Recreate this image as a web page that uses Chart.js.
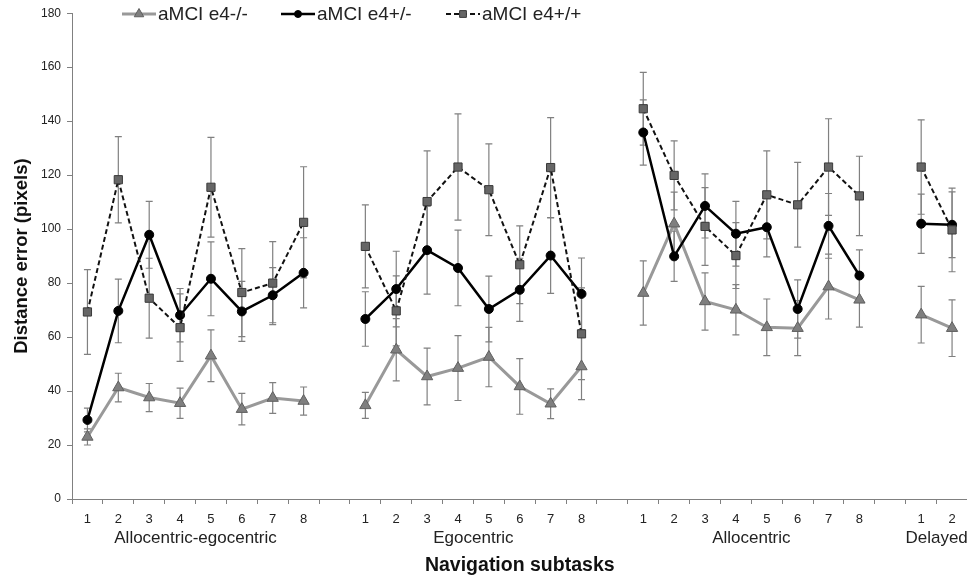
<!DOCTYPE html>
<html>
<head>
<meta charset="utf-8">
<script src="https://cdn.jsdelivr.net/npm/chart.js@4.4.1/dist/chart.umd.min.js"></script>
<style>
  html, body { margin: 0; padding: 0; background: #fff; overflow: hidden; }
  #wrap { width: 975px; height: 582px; position: relative; }
</style>
</head>
<body>
<div id="wrap"><canvas id="myChart"></canvas></div>
<script>
// x categories: 4 groups of subtasks, one blank slot between groups
const subtaskLabels = ['1','2','3','4','5','6','7','8','',
                       '1','2','3','4','5','6','7','8','',
                       '1','2','3','4','5','6','7','8','',
                       '1','2'];
const groupNames = ['Allocentric-egocentric', 'Egocentric', 'Allocentric', 'Delayed'];
const groupFirst = [0, 9, 18, 27];
const groupLast = [7, 16, 25, 28];
const yTicks = [0, 20, 40, 60, 80, 100, 120, 140, 160, 180];

// mean distance error (pixels), null = gap between groups
const e4neg = [23, 41.3, 37.6, 35.5, 53.1, 33.3, 37.4, 36.3, null,
               34.7, 55.3, 45.4, 48.5, 52.6, 41.7, 35.3, 49.1, null,
               76.3, 102.0, 73.2, 70.1, 63.6, 63.3, 78.7, 73.8, null,
               68.3, 63.3];
const e4negErr = [3, 5.3, 5.2, 5.6, 9.6, 5.8, 5.7, 5.2, null,
                  4.8, 11.5, 10.5, 12, 11, 10.3, 5.5, 12.3, null,
                  11.9, 11.7, 10.6, 9.3, 10.5, 10.2, 12, 10.1, null,
                  10.5, 10.5];

const e4het = [29.3, 69.7, 97.9, 68.1, 81.6, 69.5, 75.5, 83.8, null,
               66.7, 77.8, 92.2, 85.6, 70.4, 77.5, 90.2, 76, null,
               135.8, 89.9, 108.6, 98.3, 100.7, 70.4, 101.2, 82.8, null,
               102, 101.6];
const e4hetErr = [4.4, 11.8, 12.4, 9.9, 13.7, 11.1, 10.2, 13, null,
                  10.1, 14, 16.3, 14, 12.2, 11.7, 14, 13.3, null,
                  12.1, 9.3, 11.9, 12, 11, 10.8, 12, 9.5, null,
                  11, 12.2];

const e4hom = [69.3, 118.3, 74.4, 63.5, 115.5, 76.5, 80, 102.5, null,
               93.6, 69.7, 110.2, 123, 114.6, 86.8, 122.8, 61.2, null,
               144.6, 119.9, 101, 90.2, 112.7, 109, 123, 112.3, null,
               123, 99.7];
const e4homErr = [15.7, 16, 14.8, 12.5, 18.5, 16.3, 15.4, 20.6, null,
                  15.4, 13, 18.8, 19.7, 17, 14.4, 18.5, 17, null,
                  13.5, 12.8, 14.4, 12.2, 16.3, 15.7, 17.9, 14.7, null,
                  17.5, 15.5];

const FONT = "'Liberation Sans', Arial, sans-serif";

// error bars drawn under the lines
const errorBars = {
  id: 'errorBars',
  beforeDatasetsDraw(chart) {
    const ctx = chart.ctx;
    const y = chart.scales.y;
    ctx.save();
    ctx.strokeStyle = '#808080';
    ctx.lineWidth = 1.2;
    chart.data.datasets.forEach((ds, i) => {
      const meta = chart.getDatasetMeta(i);
      ds.data.forEach((v, j) => {
        if (v === null || ds.errors[j] === null) return;
        const x = meta.data[j].x;
        const top = y.getPixelForValue(v + ds.errors[j]);
        const bot = y.getPixelForValue(v - ds.errors[j]);
        ctx.beginPath();
        ctx.moveTo(x, top); ctx.lineTo(x, bot);
        ctx.moveTo(x - 3.5, top); ctx.lineTo(x + 3.5, top);
        ctx.moveTo(x - 3.5, bot); ctx.lineTo(x + 3.5, bot);
        ctx.stroke();
      });
    });
    ctx.restore();
  }
};

// group names under the subtask numbers
const groupLabels = {
  id: 'groupLabels',
  afterDraw(chart) {
    const ctx = chart.ctx;
    const x = chart.scales.x;
    ctx.save();
    ctx.font = '17px ' + FONT;
    ctx.fillStyle = '#222';
    ctx.textAlign = 'center';
    ctx.textBaseline = 'middle';
    groupNames.forEach((name, i) => {
      const cx = (x.getPixelForValue(groupFirst[i]) + x.getPixelForValue(groupLast[i])) / 2;
      ctx.fillText(name, cx, 538);
    });
    ctx.restore();
  }
};

// legend: line sample with marker, then the text
const lineLegend = {
  id: 'lineLegend',
  afterDraw(chart) {
    const ctx = chart.ctx;
    const starts = [122, 281, 446];
    const y0 = 14;
    ctx.save();
    chart.data.datasets.forEach((ds, i) => {
      const x0 = starts[i], x1 = x0 + 34;
      ctx.beginPath();
      ctx.setLineDash(ds.borderDash || []);
      ctx.strokeStyle = ds.borderColor;
      ctx.lineWidth = ds.borderWidth;
      ctx.moveTo(x0, y0); ctx.lineTo(x1, y0);
      ctx.stroke();
      ctx.setLineDash([]);
      ctx.fillStyle = ds.pointBackgroundColor;
      ctx.strokeStyle = ds.pointBorderColor;
      ctx.lineWidth = 1;
      Chart.helpers.drawPoint(ctx, {
        pointStyle: ds.pointStyle, rotation: 0,
        radius: ds.pointRadius - 1, borderWidth: 1
      }, (x0 + x1) / 2, y0);
      ctx.font = '19px ' + FONT;
      ctx.fillStyle = '#222';
      ctx.textAlign = 'left';
      ctx.textBaseline = 'middle';
      ctx.fillText(ds.label, x1 + 2, y0 + 1);
    });
    ctx.restore();
  }
};

new Chart('myChart', {
  type: 'line',
  data: {
    labels: subtaskLabels,
    datasets: [
      {
        label: 'aMCI e4-/-',
        data: e4neg,
        errors: e4negErr,
        borderColor: '#999999',
        borderWidth: 3,
        pointStyle: 'triangle',
        pointRadius: 6.5,
        pointBackgroundColor: '#7f7f7f',
        pointBorderColor: '#5f5f5f',
        pointBorderWidth: 1,
        spanGaps: false,
        order: 3
      },
      {
        label: 'aMCI e4+/-',
        data: e4het,
        errors: e4hetErr,
        borderColor: '#000000',
        borderWidth: 2.5,
        pointStyle: 'circle',
        pointRadius: 4.5,
        pointBackgroundColor: '#000000',
        pointBorderColor: '#000000',
        pointBorderWidth: 1,
        spanGaps: false,
        order: 2
      },
      {
        label: 'aMCI e4+/+',
        data: e4hom,
        errors: e4homErr,
        borderColor: '#111111',
        borderWidth: 2,
        borderDash: [5, 3],
        pointStyle: 'rect',
        pointRadius: 5.8,
        pointBackgroundColor: '#666666',
        pointBorderColor: '#3a3a3a',
        pointBorderWidth: 1,
        spanGaps: false,
        order: 1
      }
    ]
  },
  options: {
    responsive: true,
    maintainAspectRatio: false,
    devicePixelRatio: 1,
    animation: false,
    layout: { padding: { top: 13, right: 4, left: 0, bottom: 0 } },
    plugins: {
      legend: { display: false },
      tooltip: { enabled: false }
    },
    elements: { line: { tension: 0 } },
    scales: {
      x: {
        type: 'category',
        offset: true,
        grid: { offset: true, drawOnChartArea: false, tickLength: 5, color: '#808080' },
        border: { color: '#808080', width: 1 },
        ticks: { autoSkip: false, maxRotation: 0, padding: 8, color: '#222', font: { family: FONT, size: 13 } },
        title: {
          display: true, text: 'Navigation subtasks', color: '#111',
          font: { family: FONT, size: 19.5, weight: 'bold' }, padding: { top: 0, bottom: 5 }
        },
        afterFit(scale) { scale.height = 83; }
      },
      y: {
        min: 0,
        max: 180,
        afterBuildTicks(scale) { scale.ticks = yTicks.map(v => ({ value: v })); },
        grid: { drawOnChartArea: false, tickLength: 5, color: '#808080' },
        border: { color: '#808080', width: 1 },
        ticks: { padding: 6, color: '#222', font: { family: FONT, size: 12 } },
        title: {
          display: true, text: 'Distance error (pixels)', color: '#111',
          font: { family: FONT, size: 18.5, weight: 'bold' }, padding: { top: 11, bottom: 0 }
        },
        afterFit(scale) { scale.width = 72; }
      }
    }
  },
  plugins: [errorBars, groupLabels, lineLegend]
});
</script>
</body>
</html>
